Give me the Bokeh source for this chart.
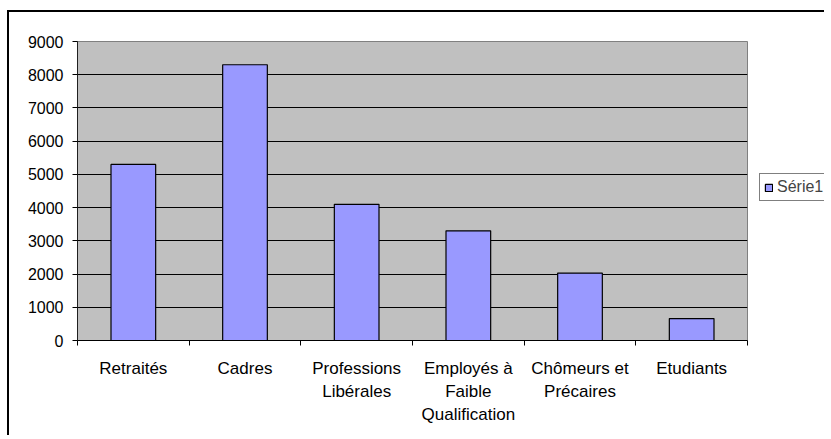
from bokeh.plotting import figure
from bokeh.layouts import row
from bokeh.models import Range1d, FixedTicker, Legend, LegendItem
from bokeh.embed import file_html
from bokeh.resources import INLINE

categories = ["Retraités", "Cadres", "Professions\nLibérales",
              "Employés à\nFaible\nQualification", "Chômeurs et\nPrécaires", "Etudiants"]
values = [5300, 8300, 4100, 3300, 2030, 660]
series_name = "Série1"
y_ticks = [0, 1000, 2000, 3000, 4000, 5000, 6000, 7000, 8000, 9000]

FONT = "Liberation Sans"
BAR_FILL = "#9999FF"

centers = [i + 0.5 for i in range(len(categories))]
bounds = [i for i in range(len(categories) + 1)]

p = figure(width=745, height=423, output_backend="svg", toolbar_location=None,
           x_range=Range1d(0, len(categories)), y_range=Range1d(0, 9000),
           min_border_left=68, min_border_top=29, min_border_bottom=95, min_border_right=7)

p.background_fill_color = "#C0C0C0"
p.border_fill_color = "white"
p.outline_line_color = "#808080"
p.outline_line_width = 1

bars = p.vbar(x=centers, top=values, width=0.4, bottom=0,
              fill_color=BAR_FILL, line_color="black", line_width=1.2)

# x axis: labels at centres, ticks at category boundaries
xa = p.xaxis[0]
xa.ticker = FixedTicker(ticks=centers, minor_ticks=bounds)
xa.major_label_overrides = {c: lab for c, lab in zip(centers, categories)}
xa.major_tick_line_color = None
xa.major_tick_out = 0
xa.major_tick_in = 0
xa.minor_tick_out = 5
xa.minor_tick_in = 0
xa.minor_tick_line_color = "black"
xa.axis_line_color = "black"
xa.major_label_text_font = FONT
xa.major_label_text_font_size = "17px"
xa.major_label_text_color = "black"
xa.major_label_standoff = 13
xa.major_label_text_line_height = 1.22

ya = p.yaxis[0]
ya.ticker = FixedTicker(ticks=y_ticks)
ya.minor_tick_line_color = None
ya.major_tick_out = 5
ya.major_tick_in = 0
ya.major_tick_line_color = "black"
ya.axis_line_color = "#202020"
ya.major_label_text_font = FONT
ya.major_label_text_font_size = "16px"
ya.major_label_text_color = "black"
ya.major_label_standoff = 9

p.xgrid.grid_line_color = None
p.ygrid.grid_line_color = "black"
p.ygrid.grid_line_width = 1
p.ygrid.ticker = FixedTicker(ticks=y_ticks)

# legend panel (separate figure so the legend can sit outside the plot frame)
p2 = figure(width=70, height=423, output_backend="svg", toolbar_location=None,
            x_range=Range1d(0, 1), y_range=Range1d(0, 1),
            min_border_left=0, min_border_right=0, min_border_top=0, min_border_bottom=0)
p2.axis.visible = False
p2.grid.visible = False
p2.outline_line_color = None
p2.background_fill_color = "white"
p2.border_fill_color = "white"
key = p2.vbar(x=centers, top=values, width=0.4, fill_color=BAR_FILL,
              line_color="black", line_width=1.2, visible=False)

legend = Legend(items=[LegendItem(label=series_name, renderers=[key])],
                location=(5, 139), orientation="vertical",
                border_line_color="black", border_line_width=1,
                background_fill_color="white", background_fill_alpha=1,
                label_text_font=FONT, label_text_font_size="16px",
                glyph_width=9, glyph_height=9, label_standoff=4,
                padding=4, spacing=0, margin=0,
                inactive_fill_alpha=0)
p2.add_layout(legend, "center")

layout = row(p, p2, spacing=0)
layout.styles = {"border-left": "2px solid black", "border-top": "2px solid black",
                 "margin-left": "7px", "margin-top": "10px"}

open("out.html", "w").write(file_html(layout, INLINE))
